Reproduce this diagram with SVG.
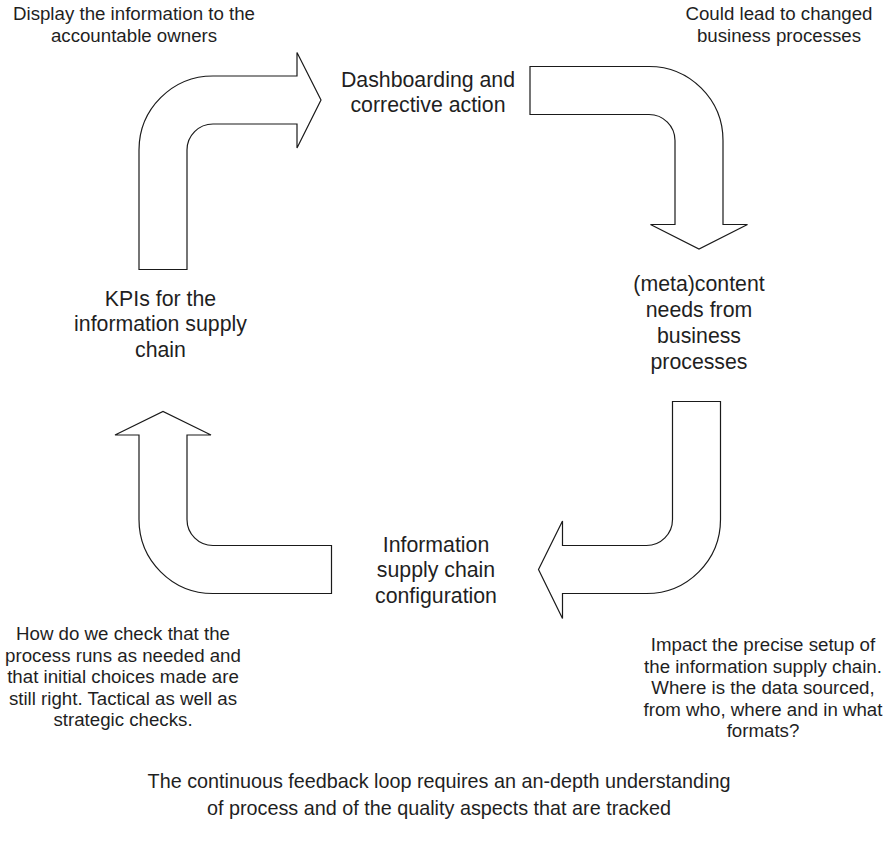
<svg xmlns="http://www.w3.org/2000/svg" width="887" height="842" viewBox="0 0 887 842">
  <style>
    .bg { fill: #ffffff; }
    .bend { fill: #ffffff; stroke: #1a1a1a; stroke-width: 1.2; stroke-linejoin: miter; }
    text { font-family: "Liberation Sans", Arial, sans-serif; fill: #1f1f1f; text-anchor: middle; }
    .stage { font-size: 21.3px; }
    .note { font-size: 18.7px; }
    .summary { font-size: 19.8px; }
  </style>
  <rect class="bg" x="0" y="0" width="887" height="842"/>

  <!-- Bent block arrows forming the feedback cycle -->
  <g id="connectors">
    <path id="arrow-kpi-to-dashboard" class="bend"
      d="M139,269.5 L139,150 A74,74 0 0 1 213,76 L297,76 L297,52.5 L321,100 L297,148 L297,124 L213,124 A26,26 0 0 0 187,150 L187,269.5 Z"/>
    <path id="arrow-dashboard-to-needs" class="bend"
      d="M530,66.5 L649,66.5 A74,74 0 0 1 723,140.5 L723,224.5 L747.5,224.5 L699,249 L650.5,224.5 L675,224.5 L675,140.5 A26,26 0 0 0 649,114.5 L530,114.5 Z"/>
    <path id="arrow-needs-to-config" class="bend"
      d="M672.5,401.5 L720.5,401.5 L720.5,519.5 A74,74 0 0 1 646.5,593.5 L562.5,593.5 L562.5,618.5 L538.5,569.5 L562.5,521 L562.5,545.5 L646.5,545.5 A26,26 0 0 0 672.5,519.5 Z"/>
    <path id="arrow-config-to-kpi" class="bend"
      d="M331.5,593.5 L213,593.5 A74,74 0 0 1 139,519.5 L139,435 L115,435 L163,411.5 L211,435 L187,435 L187,519.5 A26,26 0 0 0 213,545.5 L331.5,545.5 Z"/>
  </g>

  <!-- Stage labels -->
  <g id="stage-dashboarding">
    <text class="stage" x="428" y="86.5">Dashboarding and</text>
    <text class="stage" x="428" y="112">corrective action</text>
  </g>
  <g id="stage-content-needs">
    <text class="stage" x="699" y="291">(meta)content</text>
    <text class="stage" x="699" y="317">needs from</text>
    <text class="stage" x="699" y="343">business</text>
    <text class="stage" x="699" y="369">processes</text>
  </g>
  <g id="stage-configuration">
    <text class="stage" x="436" y="551.5">Information</text>
    <text class="stage" x="436" y="577">supply chain</text>
    <text class="stage" x="436" y="602.5">configuration</text>
  </g>
  <g id="stage-kpis">
    <text class="stage" x="160.5" y="305.5">KPIs for the</text>
    <text class="stage" x="160.5" y="331">information supply</text>
    <text class="stage" x="160.5" y="356.5">chain</text>
  </g>

  <!-- Notes beside each transition -->
  <g id="note-display">
    <text class="note" x="134" y="20">Display the information to the</text>
    <text class="note" x="134" y="41.5">accountable owners</text>
  </g>
  <g id="note-changed-processes">
    <text class="note" x="779" y="20">Could lead to changed</text>
    <text class="note" x="779" y="41.5">business processes</text>
  </g>
  <g id="note-setup-impact">
    <text class="note" x="763" y="651">Impact the precise setup of</text>
    <text class="note" x="763" y="672.5">the information supply chain.</text>
    <text class="note" x="763" y="694">Where is the data sourced,</text>
    <text class="note" x="763" y="715.5">from who, where and in what</text>
    <text class="note" x="763" y="737">formats?</text>
  </g>
  <g id="note-checks">
    <text class="note" x="123" y="640">How do we check that the</text>
    <text class="note" x="123" y="661.5">process runs as needed and</text>
    <text class="note" x="123" y="683">that initial choices made are</text>
    <text class="note" x="123" y="704.5">still right. Tactical as well as</text>
    <text class="note" x="123" y="726">strategic checks.</text>
  </g>

  <!-- Closing remark -->
  <g id="summary">
    <text class="summary" x="439" y="788">The continuous feedback loop requires an an-depth understanding</text>
    <text class="summary" x="439" y="815">of process and of the quality aspects that are tracked</text>
  </g>
</svg>
